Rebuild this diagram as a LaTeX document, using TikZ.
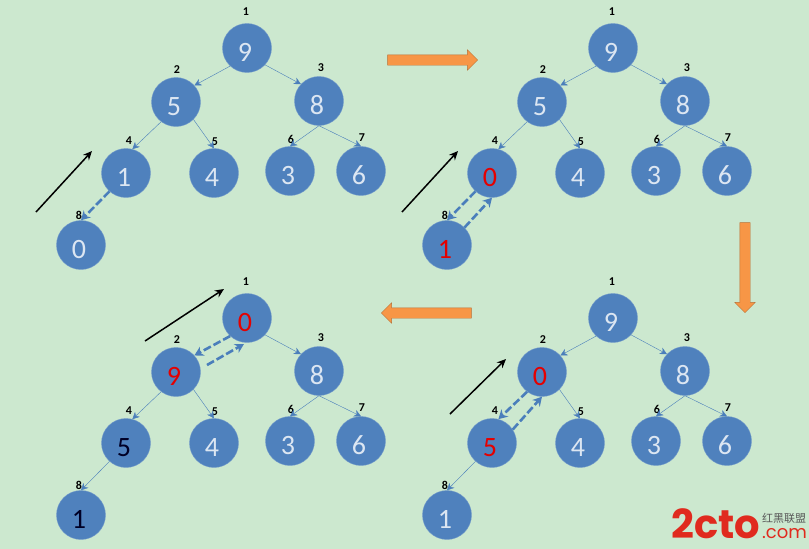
\documentclass[tikz,border=0pt]{standalone}
\usepackage{fontspec}
\setmainfont{Carlito}
\newfontfamily\logofont{Poppins}
\newfontfamily\cjkfont{Noto Sans CJK SC}
\usetikzlibrary{shapes, arrows, arrows.meta, positioning}
\definecolor{fondo}{HTML}{CCE8CF}
\definecolor{azul}{HTML}{4F81BD}
\definecolor{linea}{HTML}{4A7EBB}
\definecolor{naranja}{HTML}{F79646}
\definecolor{digito}{HTML}{DCE6F2}
\definecolor{logored}{HTML}{E02A1E}
\newcommand{\rojo}[1]{\textcolor{red!90!black}{#1}}
\newcommand{\oscuro}[1]{\textcolor{black!85!blue}{#1}}
\newcommand{\digit}[1]{\hspace{-4pt}#1}
\tikzstyle{heapnode} = [circle, fill=azul, draw=azul!80!white, minimum size=49pt, inner sep=0pt, text=digito, text height=26pt, text depth=0pt, font=\fontsize{28}{28}\selectfont]
\tikzstyle{indexlabel} = [inner sep=0pt, font=\fontsize{12}{12}\selectfont\bfseries]
\tikzstyle{treeedge} = [draw=linea, thin, -{Stealth[length=7pt,width=7pt]}]
\tikzstyle{swapedge} = [draw=linea, line width=2.6pt, dash pattern=on 8pt off 3pt, -{Stealth[length=9pt,width=10pt]}]
\tikzstyle{scanarrow} = [draw=black, line width=1.5pt, -{Stealth[length=9pt,width=8pt]}]
\tikzstyle{stagearrow} = [single arrow, fill=naranja, draw=naranja!75!black, text height=10pt, text depth=0pt, text width=0pt, minimum height=90pt, single arrow head extend=5pt, inner sep=0pt]
% nodes of one heap, values in index order
\newcommand{\heaptree}[8]{
	\node [heapnode] (n1) at (247,48) {\digit{#1}};
	\node [heapnode] (n2) at (176,102) {\digit{#2}};
	\node [heapnode] (n3) at (319,101) {\digit{#3}};
	\node [heapnode] (n4) at (126,173) {\digit{#4}};
	\node [heapnode] (n5) at (214,173) {\digit{#5}};
	\node [heapnode] (n6) at (290,171) {\digit{#6}};
	\node [heapnode] (n7) at (361,171) {\digit{#7}};
	\node [heapnode] (n8) at (81,245) {\digit{#8}};
	\node [indexlabel] (i1) at (246,12) {1};
	\node [indexlabel] (i2) at (177,70) {2};
	\node [indexlabel] (i3) at (321,68) {3};
	\node [indexlabel] (i4) at (129,141) {4};
	\node [indexlabel] (i5) at (215,142) {5};
	\node [indexlabel] (i6) at (291,139) {6};
	\node [indexlabel] (i7) at (362,138) {7};
	\node [indexlabel] (i8) at (79,215) {8};
	\draw [treeedge] (n1.-43) -- (n3.137);
	\draw [treeedge] (n2.-45) -- (n5.north);
	\draw [treeedge] (n3.south) -- (n6.north);
	\draw [treeedge] (n3.south) -- (n7.north);
}
\begin{document}
\begin{tikzpicture}[x=1pt, y=-1pt]
	\path [use as bounding box, fill=fondo] (0,0) rectangle (809,549);

	\begin{scope}[name prefix=a-]
		\heaptree{9}{5}{8}{1}{4}{3}{6}{0}
		\draw [treeedge] (n1.227) -- (n2.42);
		\draw [treeedge] (n2.233) -- (n4.75);
		\draw [swapedge] (n4.228) -- (n8.north);
		\coordinate (s) at (36,212);
		\coordinate (e) at (92,151);
		\draw [scanarrow] (s) -- (e);
	\end{scope}

	\begin{scope}[shift={(366,0)}, name prefix=b-]
		\heaptree{9}{5}{8}{\rojo{0}}{4}{3}{6}{\rojo{1}}
		\draw [treeedge] (n1.227) -- (n2.42);
		\draw [treeedge] (n2.233) -- (n4.75);
		\draw [swapedge] (n4.228) -- (n8.north);
		\draw [swapedge] (n8.45) -- (n4.south);
		\coordinate (s) at (36,212);
		\coordinate (e) at (92,151);
		\draw [scanarrow] (s) -- (e);
	\end{scope}

	\begin{scope}[shift={(366,270)}, name prefix=c-]
		\heaptree{9}{\rojo{0}}{8}{\rojo{5}}{4}{3}{6}{1}
		\draw [treeedge] (n1.227) -- (n2.42);
		\draw [swapedge] (n2.233) -- (n4.75);
		\draw [swapedge] (n4.33) -- (n2.south);
		\draw [treeedge] (n4.228) -- (n8.north);
		\coordinate (s) at (84,144);
		\coordinate (e) at (140,89);
		\draw [scanarrow] (s) -- (e);
	\end{scope}

	\begin{scope}[shift={(0,270)}, name prefix=d-]
		\heaptree{\rojo{0}}{\rojo{9}}{8}{\oscuro{5}}{4}{3}{6}{\oscuro{1}}
		\draw [swapedge] (n1.227) -- (n2.42);
		\coordinate (u) at (207,95);
		\coordinate (v) at (244,74);
		\draw [swapedge] (u) -- (v);
		\draw [treeedge] (n2.233) -- (n4.75);
		\draw [treeedge] (n4.228) -- (n8.north);
		\coordinate (s) at (145,71);
		\coordinate (e) at (224,19);
		\draw [scanarrow] (s) -- (e);
	\end{scope}

	\node [stagearrow] (right) at (430,60) {};
	\node [stagearrow, rotate=-90] (down) at (745,265) {};
	\node [stagearrow, rotate=180] (left) at (429,313) {};

	\node [anchor=base west, inner sep=0pt, text=logored, font=\logofont\bfseries\fontsize{40}{40}\selectfont] (logo) at (671,538) {2cto};
	\node [anchor=base west, inner sep=0pt, text=logored, font=\logofont\fontsize{18}{18}\selectfont] (com) at (762,538) {.com};
	\node [anchor=base west, inner sep=0pt, text=black!65, font=\cjkfont\fontsize{11}{11}\selectfont] (cjk) at (762,522) {红黑联盟};
\end{tikzpicture}
\end{document}
